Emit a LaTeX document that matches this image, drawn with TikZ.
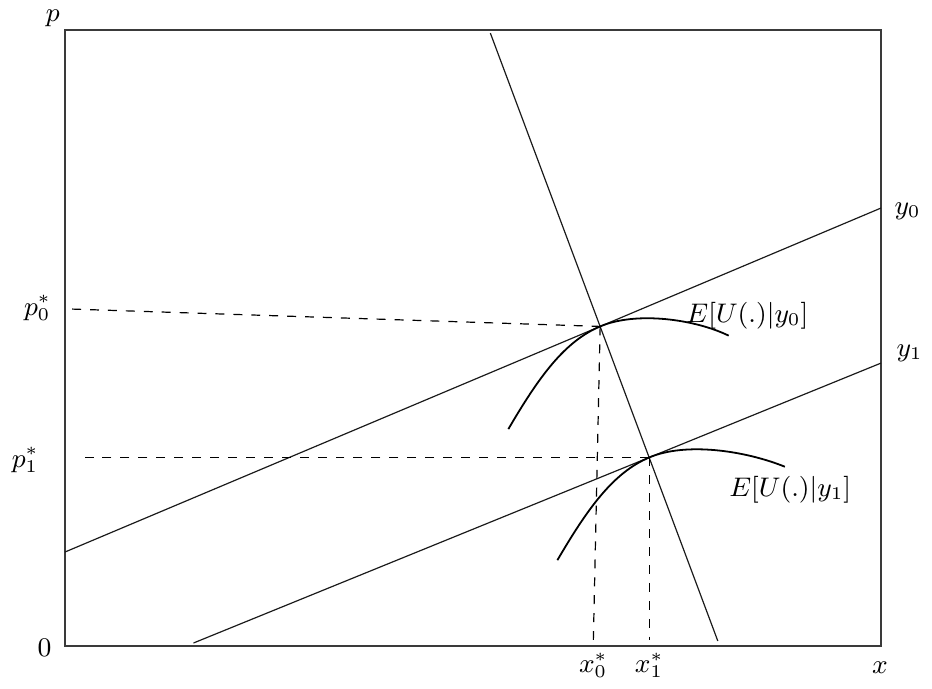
\documentclass[tikz,border=0pt]{standalone}
\usepackage{amsmath}
\usetikzlibrary{calc}
\definecolor{frameink}{HTML}{3A3A3A}
\definecolor{lineink}{HTML}{1A1A1A}

% expected-utility curve, drawn around its tangency point #1
\newcommand{\eucurve}[2]{%
  \begin{scope}[shift={(#1)}]
    \draw[curve] (-0.9,-1.0) .. controls (-0.6,-0.49) and (-0.35,-0.147) .. (0,0)
                 .. controls (0.354,0.15) and (0.93,0.07) .. (#2,-0.09);
  \end{scope}%
}

\begin{document}
\begin{tikzpicture}[
  x=1.2cm, y=1.208cm, font=\small,
  frame/.style = {draw=frameink, line width=0.6pt},
  curve/.style = {draw=black, line width=0.6pt},
  fine/.style  = {draw=lineink, line width=0.4pt},
  guide/.style = {draw=black, dashed, line width=0.4pt},
  lbl/.style   = {inner sep=1pt},
]
\useasboundingbox (-0.637,-0.409) rectangle (8.5,6.292);

% ================================================================ axes ===
\draw[frame] (0,0) rectangle (8,6);
\node[lbl] (plab) at (-0.12,6.117) {$p$};
\node[lbl] (olab) at (-0.2,-0.02) {$0$};
\node[lbl] (xlab) at (7.99,-0.214) {$x$};

% ======================================================= straight lines ===
\coordinate (d0)  at (4.17,5.97);
\coordinate (d1)  at (6.40,0.05);
\coordinate (b0s) at (0,0.916);
\coordinate (b0e) at (8,4.266);
\coordinate (b1s) at (1.26,0.03);
\coordinate (b1e) at (8,2.756);
\draw[fine] (d0)  -- (d1);
\draw[fine] (b0s) -- (b0e);
\draw[fine] (b1s) -- (b1e);
\node[lbl] (y0lab) at (8.26,4.23) {$y_0$};
\node[lbl] (y1lab) at (8.28,2.854) {$y_1$};

\coordinate (A) at (intersection of d0--d1 and b0s--b0e);
\coordinate (B) at (intersection of d0--d1 and b1s--b1e);

% ================================================ expected utility curves ===
\eucurve{A}{1.26}
\eucurve{B}{1.33}
\node[lbl] (eu0) at (6.69,3.214) {$E[U(.)|y_0]$};
\node[lbl] (eu1) at (7.11,1.519) {$E[U(.)|y_1]$};

% ========================================================== read-offs ===
\coordinate (p0s) at (0.07,3.282);
\coordinate (x0e) at (5.18,0.06);
\draw[guide] (p0s) -- (A);
\draw[guide] (A) -- (x0e);
\draw[guide] (B) -- (B -| 0.15,0);
\draw[guide] (B) -- (B |- 0,0.06);
\node[lbl] (p0lab) at (-0.27,3.292) {$p_0^*$};
\node[lbl] (p1lab) at (-0.39,1.812) {$p_1^*$};
\node[lbl] (x0lab) at (5.18,-0.185) {$x_0^*$};
\node[lbl] (x1lab) at (B |- 0,-0.185) {$x_1^*$};

\end{tikzpicture}
\end{document}
